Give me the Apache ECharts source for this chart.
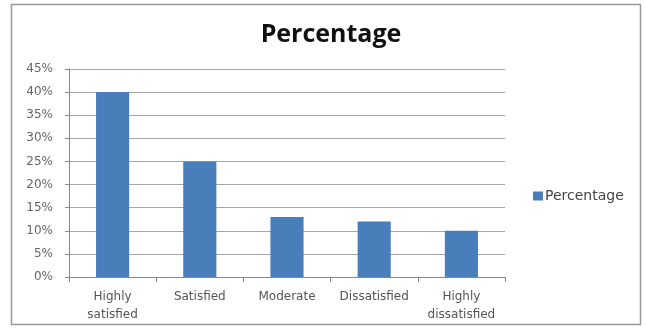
<!DOCTYPE html>
<html>
<head>
<meta charset="utf-8">
<script src="https://cdn.jsdelivr.net/npm/echarts@6/dist/echarts.min.js"></script>
<style>
html, body { margin: 0; padding: 0; background: #fff; }
#chart { width: 646px; height: 328px; }
</style>
</head>
<body>
<div id="chart"></div>
<script>
var categories = ['Highly\nsatisfied', 'Satisfied', 'Moderate', 'Dissatisfied', 'Highly\ndissatisfied'];
var values = [40, 25, 13, 12, 10];
var seriesName = 'Percentage';

var myChart = echarts.init(document.getElementById('chart'));
var option = {
    backgroundColor: '#fff',
    animation: false,
    title: {
        text: 'Percentage',
        left: 326,
        textAlign: 'center',
        top: 17,
        textStyle: { fontFamily: 'Open Sans', fontSize: 25, fontWeight: 'bold', color: '#111' }
    },
    legend: {
        left: 528,
        top: 184,
        itemWidth: 10,
        itemHeight: 9,
        itemGap: 2,
        icon: 'rect',
        textStyle: { fontFamily: 'DejaVu Sans', fontSize: 14, color: '#444', padding: [0, 0, 0, -3] },
        data: [seriesName]
    },
    grid: { left: 69, right: 141, top: 69, bottom: 51 },
    xAxis: {
        type: 'category',
        data: categories,
        axisLine: { lineStyle: { color: '#888' } },
        axisTick: { show: true, alignWithLabel: false, length: 5, lineStyle: { color: '#888' } },
        axisLabel: { fontFamily: 'DejaVu Sans', fontSize: 12, color: '#555', lineHeight: 18, margin: 11, interval: 0 }
    },
    yAxis: {
        type: 'value',
        min: 0,
        max: 45,
        interval: 5,
        axisLine: { show: true, lineStyle: { color: '#888' } },
        axisTick: { show: true, length: 4, lineStyle: { color: '#888' } },
        axisLabel: { fontFamily: 'DejaVu Sans', fontSize: 12, color: '#666', formatter: '{value}%', margin: 16 },
        splitLine: { lineStyle: { color: '#a6a6a6' } }
    },
    series: [{
        name: seriesName,
        type: 'bar',
        data: values,
        barWidth: '38%',
        itemStyle: { color: '#4a7ebb' }
    }],
    graphic: [{
        type: 'rect',
        shape: { x: 11.5, y: 4.5, width: 629, height: 320 },
        style: { fill: 'none', stroke: '#999', lineWidth: 1.5 },
        z: -1
    }]
};
myChart.setOption(option);
</script>
</body>
</html>
